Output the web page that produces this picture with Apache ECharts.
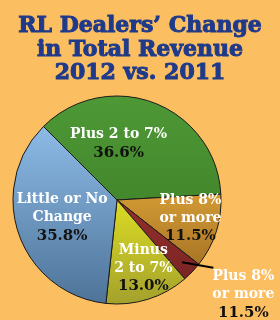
<!DOCTYPE html>
<html>
<head>
<meta charset="utf-8">
<script src="https://cdn.jsdelivr.net/npm/echarts@6/dist/echarts.min.js"></script>
<style>
html,body{margin:0;padding:0;background:#fbbe60;}
#chart{width:280px;height:320px;}
</style>
</head>
<body>
<div id="chart"></div>
<script>
const titleText = 'RL Dealers\u2019 Change\nin Total Revenue\n2012 vs. 2011';
const categories = ['Plus 2 to 7%', 'Plus 8%\nor more', 'Plus 8%\nor more', 'Minus\n2 to 7%', 'Little or No\nChange'];
const values = [36.6, 11.5, 3.1, 13.0, 35.8];
const valueLabels = ['36.6%', '11.5%', '11.5%', '13.0%', '35.8%'];
const colorTops = ['#4e9836', '#d39a34', '#94302c', '#dcdc24', '#8cbbe6'];
const colorBottoms = ['#43882c', '#a87526', '#7a2424', '#a3a12c', '#4e7398'];

const labelShift = [[-18, -5], [21, 2], [0, 0], [10, 16], [-3, 0]];
const outsideIndex = 2;

const chart = echarts.init(document.getElementById('chart'), null, {renderer: 'canvas'});

const richStyles = {
  w: {fontFamily: 'DejaVu Serif', fontWeight: 'bold', fontSize: 14, color: '#ffffff', lineHeight: 18, align: 'center'},
  b: {fontFamily: 'DejaVu Serif', fontWeight: 'bold', fontSize: 15, color: '#111111', lineHeight: 19, align: 'center'}
};
const fmt = p => '{w|' + p.name + '}\n{b|' + valueLabels[p.dataIndex] + '}';

const pieData = values.map((v, i) => ({
  value: v,
  name: categories[i],
  itemStyle: {
    color: new echarts.graphic.LinearGradient(0, 0, 0, 1, [
      {offset: 0, color: colorTops[i]},
      {offset: 1, color: colorBottoms[i]}
    ])
  },
  label: {show: i !== outsideIndex}
}));

const overlayData = values.map((v, i) => ({
  value: v,
  name: categories[i],
  label: {show: i === outsideIndex},
  labelLine: {show: i === outsideIndex}
}));

const common = {
  type: 'pie',
  center: [117, 200],
  radius: [0, 104],
  startAngle: 135,
  clockwise: true,
  avoidLabelOverlap: false
};

chart.setOption({
  backgroundColor: '#fbbe60',
  animation: false,
  title: {
    text: titleText,
    left: 'center',
    top: 10,
    textStyle: {
      fontFamily: 'DejaVu Serif',
      fontWeight: 'bold',
      fontSize: 22,
      lineHeight: 23.5,
      color: '#1f3a8a',
      textBorderColor: '#1f3a8a',
      textBorderWidth: 1
    }
  },
  series: [
    Object.assign({}, common, {
      z: 2,
      itemStyle: {borderColor: '#1a1a1a', borderWidth: 1},
      label: {position: 'inside', formatter: fmt, align: 'center', rich: richStyles},
      labelLine: {show: false},
      labelLayout: params => ({dx: labelShift[params.dataIndex][0], dy: labelShift[params.dataIndex][1]}),
      data: pieData
    }),
    Object.assign({}, common, {
      z: 5,
      silent: true,
      itemStyle: {color: 'rgba(0,0,0,0)', borderWidth: 0},
      label: {position: 'outside', formatter: fmt, align: 'center', rich: richStyles},
      labelLine: {length: 10, length2: 10, lineStyle: {color: '#000', width: 2}},
      labelLayout: function (params) {
        if (!params.labelLinePoints) return {};
        const pts = params.labelLinePoints;
        const p0 = pts[0], p1 = pts[1], p2 = pts[2];
        const dx = p1[0] - p0[0], dy = p1[1] - p0[1];
        const len = Math.sqrt(dx * dx + dy * dy) || 1;
        const start = [p0[0] - dx / len * 14, p0[1] - dy / len * 14];
        const lx = p2[0] + 34, ly = p2[1] + 16;
        const end = [lx - 30, ly - 27];
        return {
          x: lx, y: ly, align: 'center', verticalAlign: 'middle',
          labelLinePoints: [start, end, end]
        };
      },
      data: overlayData
    })
  ]
});
</script>
</body>
</html>
